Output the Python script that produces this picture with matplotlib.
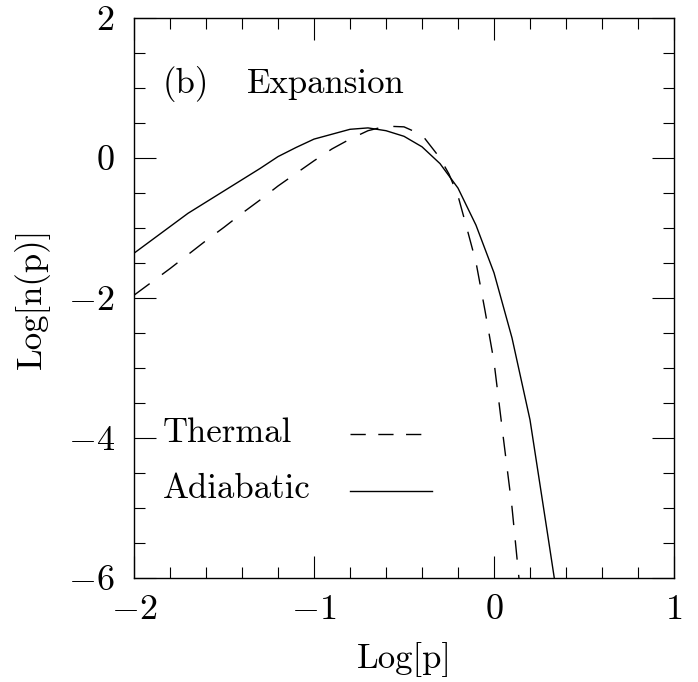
import matplotlib
matplotlib.use("Agg")
import matplotlib.pyplot as plt
from matplotlib.ticker import MultipleLocator

plt.rcParams['font.family'] = ['cmr10', 'DejaVu Serif']
plt.rcParams['mathtext.fontset'] = 'cm'
plt.rcParams['axes.formatter.use_mathtext'] = True
plt.rcParams['axes.unicode_minus'] = True

# 絕熱膨脹後的分布 (實線)
logp_adiabatic = [-2.0, -1.9, -1.8, -1.7, -1.6, -1.5, -1.4, -1.3, -1.2, -1.1,
                  -1.0, -0.9, -0.8, -0.7, -0.6, -0.5, -0.4, -0.3, -0.2, -0.1,
                  0.0, 0.1, 0.2, 0.3, 0.4]
logn_adiabatic = [-1.36, -1.17, -0.98, -0.79, -0.63, -0.47, -0.31, -0.15, 0.02, 0.15,
                  0.27, 0.34, 0.41, 0.43, 0.39, 0.31, 0.16, -0.08, -0.43, -0.96,
                  -1.64, -2.57, -3.74, -5.41, -7.10]

# 熱平衡分布 (虛線)
logp_thermal = [-2.0, -1.9, -1.8, -1.7, -1.6, -1.5, -1.4, -1.3, -1.2, -1.1,
                -1.0, -0.9, -0.8, -0.7, -0.6, -0.5, -0.4, -0.3, -0.25, -0.2,
                -0.15, -0.1, -0.05, 0.0, 0.05, 0.1, 0.15]
logn_thermal = [-1.96, -1.77, -1.58, -1.38, -1.18, -0.99, -0.79, -0.60, -0.40, -0.22,
                -0.04, 0.13, 0.27, 0.39, 0.455, 0.445, 0.33, 0.00, -0.23, -0.54,
                -1.01, -1.49, -2.18, -2.91, -3.96, -4.99, -6.30]

dash = (0, (14, 11))
fs = 25

fig = plt.figure(figsize=(6.98, 6.82), dpi=100)
ax = fig.add_axes([0.192, 0.1525, 0.7736, 0.8211])

ax.plot(logp_adiabatic, logn_adiabatic, color='black', lw=1.0)
ax.plot(logp_thermal, logn_thermal, color='black', lw=1.0, linestyle=dash)

# 圖例 (手動)
ax.text(-1.84, 0.93, "(b)", fontsize=fs)
ax.text(-1.372, 0.93, "Expansion", fontsize=fs)
ax.text(-1.84, -4.06, "Thermal", fontsize=fs)
ax.text(-1.84, -4.86, "Adiabatic", fontsize=fs)
ax.plot([-0.8, -0.344], [-3.94, -3.94], color='black', lw=1.0, linestyle=(0, (11, 9)))
ax.plot([-0.8, -0.344], [-4.76, -4.76], color='black', lw=1.0)

ax.set_xlim(-2, 1)
ax.set_ylim(-6, 2)
ax.xaxis.set_major_locator(MultipleLocator(1))
ax.xaxis.set_minor_locator(MultipleLocator(0.2))
ax.yaxis.set_major_locator(MultipleLocator(2))
ax.yaxis.set_minor_locator(MultipleLocator(0.5))
ax.tick_params(which='both', direction='in', top=True, right=True, width=0.8)
ax.tick_params(which='major', length=16, labelsize=26)
ax.tick_params(axis='x', which='major', pad=12)
ax.tick_params(axis='y', which='major', pad=14)
ax.tick_params(which='minor', length=8)
for s in ax.spines.values():
    s.set_linewidth(1.0)

ax.set_xlabel("Log[p]", fontsize=fs)
ax.set_ylabel("Log[n(p)]", fontsize=fs)
ax.xaxis.set_label_coords(0.5, -0.114)
ax.yaxis.set_label_coords(-0.156, 0.5)
ax.xaxis.label.set_va('top')

fig.savefig("out.png", dpi=100)
